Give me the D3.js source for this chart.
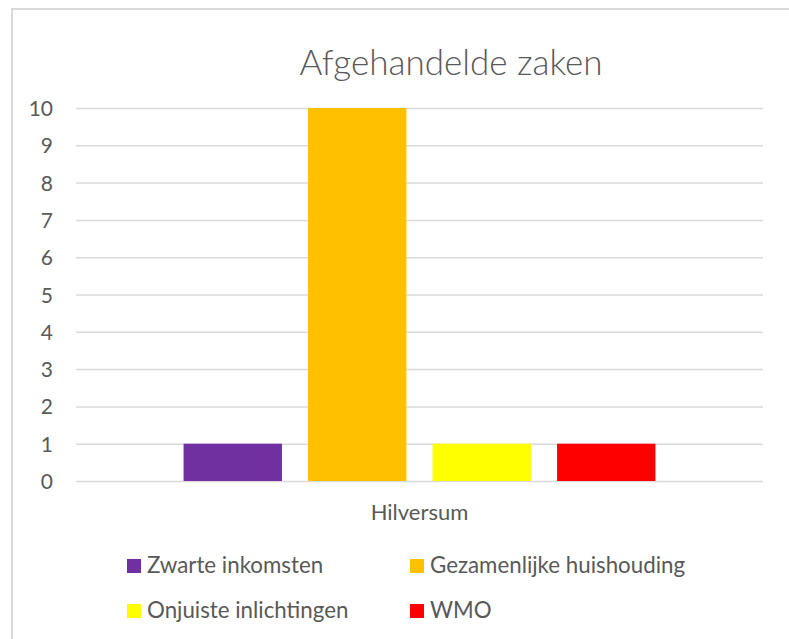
<!DOCTYPE html>
<html>
<head>
<meta charset="utf-8">
<script src="https://cdn.jsdelivr.net/npm/d3@7"></script>
<style>
  body { margin: 0; background: #fff; }
  svg { display: block; }
  text { font-family: Lato, "Open Sans", sans-serif; fill: #595959; }
</style>
</head>
<body>
<svg id="chart" width="789" height="639"></svg>
<script>
// ---------------------------------------------
//  Data
// ---------------------------------------------
const title = "Afgehandelde zaken";
const categories = ["Hilversum"];
const seriesNames = ["Zwarte inkomsten", "Gezamenlijke huishouding", "Onjuiste inlichtingen", "WMO"];
const seriesColors = ["#7030A0", "#FFC000", "#FFFF00", "#FF0000"];
const seriesValues = [[1], [10], [1], [1]];   // one value per category
const yTicks = [0, 1, 2, 3, 4, 5, 6, 7, 8, 9, 10];

// ---------------------------------------------
//  Layout
// ---------------------------------------------
const svg = d3.select("#chart");
const plot = { left: 76, right: 763, top: 108, bottom: 481 };

// chart area border (only top and left are visible in the crop)
svg.append("path")
  .attr("d", "M12,639 L12,9 L789,9")
  .attr("fill", "none")
  .attr("stroke", "#d9d9d9")
  .attr("stroke-width", 2);

svg.append("text")
  .attr("x", 451)
  .attr("y", 75)
  .attr("text-anchor", "middle")
  .style("font-size", "35px")
  .style("font-weight", 300)
  .text(title);

// Scales
const y = d3.scaleLinear().domain([0, 10]).range([plot.bottom, plot.top]);
const x0 = d3.scaleBand().domain(categories).range([plot.left, plot.right]).paddingOuter(0.228);
const x1 = d3.scaleBand().domain(seriesNames).range([0, x0.bandwidth()]).paddingInner(0.21);

// Gridlines + y axis labels
const yAxis = d3.axisLeft(y).tickValues(yTicks).tickSize(-(plot.right - plot.left)).tickPadding(23);
const gY = svg.append("g")
  .attr("transform", `translate(${plot.left},0)`)
  .call(yAxis);
gY.select(".domain").remove();
gY.selectAll(".tick line").attr("stroke", "#d9d9d9").attr("stroke-width", 1.5);
gY.selectAll(".tick text")
  .style("font-size", "21px")
  .style("font-family", "Lato, 'Open Sans', sans-serif")
  .attr("fill", "#595959")
  .attr("dy", "0.36em");

// Bars
const groups = svg.append("g")
  .selectAll("g")
  .data(categories)
  .join("g")
  .attr("transform", d => `translate(${x0(d)},0)`);

groups.selectAll("rect")
  .data((d, ci) => seriesNames.map((name, si) => ({ name, value: seriesValues[si][ci], color: seriesColors[si] })))
  .join("rect")
  .attr("x", d => x1(d.name))
  .attr("width", x1.bandwidth())
  .attr("y", d => y(d.value))
  .attr("height", d => y(0) - y(d.value))
  .attr("fill", d => d.color);

// Category axis label
svg.append("g")
  .selectAll("text")
  .data(categories)
  .join("text")
  .attr("x", d => x0(d) + x0.bandwidth() / 2)
  .attr("y", 520)
  .attr("text-anchor", "middle")
  .style("font-size", "22px")
  .text(d => d);

// Legend (2 columns)
const legendCols = [127, 410];
const legendRows = [573, 618];
const legend = svg.append("g")
  .selectAll("g")
  .data(seriesNames)
  .join("g")
  .attr("transform", (d, i) => `translate(${legendCols[i % 2]},${legendRows[Math.floor(i / 2)]})`);

legend.append("rect")
  .attr("x", 0)
  .attr("y", -14)
  .attr("width", 14)
  .attr("height", 14)
  .attr("fill", (d, i) => seriesColors[i]);

legend.append("text")
  .attr("x", 20)
  .attr("y", 0)
  .style("font-size", "22.3px")
  .text(d => d);
</script>
</body>
</html>
